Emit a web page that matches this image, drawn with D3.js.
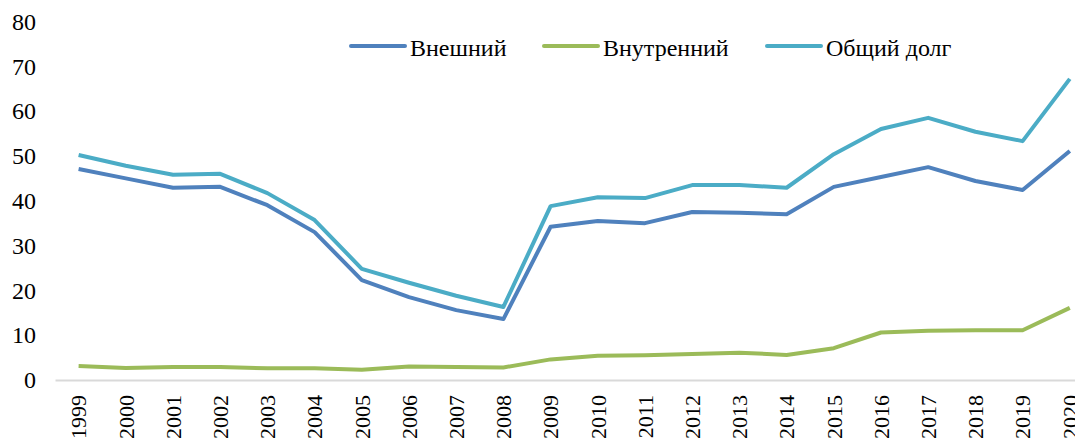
<!DOCTYPE html>
<html>
<head>
<meta charset="utf-8">
<script src="https://cdn.jsdelivr.net/npm/d3@7"></script>
<style>
  body { margin: 0; background: #fff; }
  svg text { font-family: 'Liberation Serif', 'DejaVu Serif', serif; fill: #000; }
</style>
</head>
<body>
<div id="chart"></div>
<script>
// data
const years = ["1999","2000","2001","2002","2003","2004","2005","2006","2007","2008","2009",
  "2010","2011","2012","2013","2014","2015","2016","2017","2018","2019","2020"];
const external = [47.1, 45.0, 42.9, 43.1, 39.0, 33.0, 22.3, 18.5, 15.6, 13.6, 34.2,
  35.5, 35.0, 37.5, 37.3, 37.0, 43.1, 45.3, 47.5, 44.4, 42.4, 51.1];
const internal = [3.1, 2.7, 2.9, 2.9, 2.6, 2.6, 2.3, 3.0, 2.9, 2.8, 4.6,
  5.4, 5.5, 5.8, 6.1, 5.6, 7.1, 10.6, 11.0, 11.1, 11.1, 16.1];
const total = [50.2, 47.8, 45.8, 46.0, 41.7, 35.7, 24.8, 21.7, 18.8, 16.3, 38.8,
  40.8, 40.6, 43.5, 43.5, 42.9, 50.4, 56.0, 58.5, 55.4, 53.3, 67.2];
const seriesNames = ["Внешний", "Внутренний", "Общий долг"];
const colors = ["#4F81BD", "#9BBB59", "#4BACC6"];
const yTicks = [0, 10, 20, 30, 40, 50, 60, 70, 80];

const width = 1075, height = 441;
const serif = "'Liberation Serif', 'DejaVu Serif', serif";
const svg = d3.select("#chart").append("svg")
  .attr("width", width)
  .attr("height", height);

// band axis runs off the right edge like in the original
const x = d3.scaleBand().domain(years).range([55, 55 + 47.2 * years.length]).padding(0);
const y = d3.scaleLinear().domain([0, 80]).range([380, 21.5]);

// y labels
const yAxis = svg.append("g")
  .attr("transform", "translate(36,0)")
  .call(d3.axisLeft(y).tickValues(yTicks).tickSize(0).tickPadding(0))
  .attr("font-family", serif)
  .attr("font-size", 24);
yAxis.select(".domain").remove();

// x axis
const xAxis = svg.append("g")
  .attr("transform", "translate(0,380)")
  .call(d3.axisBottom(x).tickSize(0).tickPadding(0))
  .attr("font-family", serif)
  .attr("font-size", 22);
xAxis.select(".domain").attr("stroke", "#d9d9d9").attr("stroke-width", 2);
xAxis.selectAll("text")
  .attr("transform", "rotate(-90)")
  .attr("x", -15)
  .attr("y", 0)
  .attr("dy", "0.35em")
  .style("text-anchor", "end");

const line = d3.line()
  .x((d, i) => x(years[i]) + x.bandwidth() / 2)
  .y(d => y(d));

const allSeries = [external, internal, total];
allSeries.forEach((s, k) => {
  svg.append("path")
    .datum(s)
    .attr("fill", "none")
    .attr("stroke", colors[k])
    .attr("stroke-width", 4)
    .attr("stroke-linejoin", "round")
    .attr("d", line);
});

// legend
const legendX = [351, 544, 767];
const legend = svg.selectAll(".legend")
  .data(seriesNames)
  .enter().append("g")
  .attr("class", "legend")
  .attr("transform", (d, i) => "translate(" + legendX[i] + ",46)");

legend.append("line")
  .attr("x1", 0).attr("x2", 54)
  .attr("stroke", (d, i) => colors[i])
  .attr("stroke-width", 4)
  .attr("stroke-linecap", "round");

legend.append("text")
  .attr("x", 59)
  .attr("y", 10)
  .attr("font-family", serif)
  .attr("font-size", 24)
  .text(d => d);
</script>
</body>
</html>
